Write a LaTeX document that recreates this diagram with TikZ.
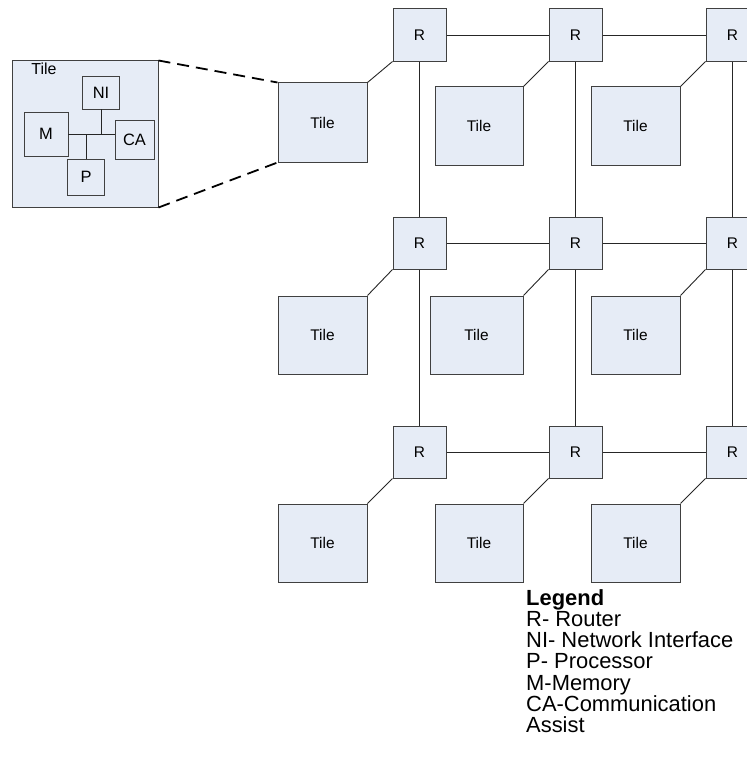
\documentclass[tikz,border=0pt]{standalone}
\usepackage{fontspec}
\setmainfont{Liberation Sans}
\definecolor{boxfill}{HTML}{E6ECF6}
\definecolor{boxline}{HTML}{404040}
\begin{document}
\begin{tikzpicture}[x=1bp,y=-1bp,
  blk/.style={draw=boxline, fill=boxfill, line width=1bp, inner sep=0pt, font=\fontsize{15.5}{17}\selectfont},
  router/.style={blk, minimum width=53bp, minimum height=52bp},
  tile/.style={blk, minimum width=89bp, minimum height=78bp},
  sub/.style={draw=boxline, fill=boxfill, line width=0.9bp, inner sep=0pt, font=\fontsize{16.5}{18}\selectfont},
  wire/.style={draw=black!85, line width=0.9bp},
  zoomline/.style={draw=black, line width=1.8bp, dash pattern=on 12bp off 7bp}
]
\useasboundingbox (0,0) rectangle (747,768);
\clip (0,0) rectangle (747,768);

% routers
\foreach \c/\x in {0/419.5,1/575.5,2/732.5}{
  \foreach \r/\y in {0/35,1/243,2/452}{
    \node[router] (R\r\c) at (\x,\y) {R};
  }
}
% tiles
\node[tile, minimum height=79bp] (T00) at (322.5,122.5) {Tile};
\node[tile, minimum width=88bp] (T01) at (479,126) {Tile};
\node[tile] (T02) at (635.5,126) {Tile};
\node[tile] (T10) at (322.5,335) {Tile};
\node[tile, minimum width=93bp] (T11) at (476.5,335) {Tile};
\node[tile] (T12) at (635.5,335) {Tile};
\node[tile] (T20) at (322.5,543) {Tile};
\node[tile, minimum width=88bp] (T21) at (479,543) {Tile};
\node[tile] (T22) at (635.5,543) {Tile};

% mesh links
\foreach \r in {0,1,2}{
  \draw[wire] (R\r0) -- (R\r1);
  \draw[wire] (R\r1) -- (R\r2);
  \coordinate (E\r) at (R\r2.east -| 747,0);
  \draw[wire] (R\r2) -- (E\r);
}
\foreach \c in {0,1,2}{
  \draw[wire] (R0\c) -- (R1\c);
  \draw[wire] (R1\c) -- (R2\c);
}
% router-tile links
\foreach \r in {0,1,2}{
  \foreach \c in {0,1,2}{
    \draw[wire] (R\r\c.south west) -- (T\r\c.north east);
  }
}

% inset tile
\node[blk, minimum width=145bp, minimum height=146bp] (big) at (85.5,134) {};
\node[font=\fontsize{16}{18}\selectfont, inner sep=0pt] (biglabel) at (44,69) {Tile};
\node[sub, minimum width=36.6bp, minimum height=33bp] (NI) at (101,92.5) {NI};
\node[sub, minimum width=44bp, minimum height=44bp] (M) at (46,134) {M};
\node[sub, minimum width=39bp, minimum height=39bp] (CA) at (134.5,139.5) {CA};
\node[sub, minimum width=36.6bp, minimum height=36.7bp] (P) at (86,177.3) {P};
\coordinate (jN) at (NI.south |- M.east);
\coordinate (jP) at (P.north |- M.east);
\draw[wire] (M.east) -- (M.east -| CA.west);
\draw[wire] (NI.south) -- (jN);
\draw[wire] (P.north) -- (jP);

% zoom lines
\draw[zoomline] (big.north east) -- (T00.north west);
\draw[zoomline] (big.south east) -- (T00.south west);

% legend
\node[anchor=north west, inner sep=0pt, align=left, font=\fontsize{22}{21.2}\selectfont] (legend) at (526,589.5)
  {\textbf{Legend}\\R- Router\\NI- Network Interface\\P- Processor\\M-Memory\\CA-Communication\\Assist};
\end{tikzpicture}
\end{document}
